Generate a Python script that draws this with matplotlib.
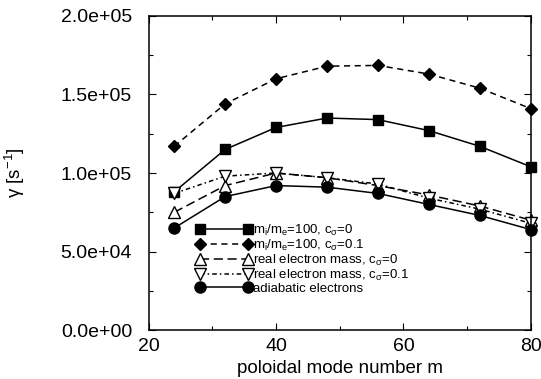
import matplotlib
matplotlib.use("Agg")
import matplotlib.pyplot as plt
from matplotlib.ticker import MultipleLocator, FormatStrFormatter

plt.rcParams['font.family'] = ['Liberation Sans', 'DejaVu Sans']
plt.rcParams['mathtext.fontset'] = 'custom'
plt.rcParams['mathtext.rm'] = 'Liberation Sans'
plt.rcParams['mathtext.it'] = 'Liberation Sans'

# poloidal mode numbers
m_vals = [24, 32, 40, 48, 56, 64, 72, 80]

# growth rates gamma [1/s]
mass100_c0 = [88000, 115000, 129000, 135000, 134000, 127000, 117000, 104000]
mass100_c01 = [117000, 144000, 160000, 168000, 168500, 163000, 154000, 141000]
real_c0 = [75000, 92000, 100000, 97000, 92000, 86000, 79000, 70000]
real_c01 = [87000, 98000, 100000, 97000, 93000, 84000, 77000, 68000]
adiabatic = [65000, 85000, 92000, 91000, 87000, 80000, 73000, 64000]

labels = [
    r"m$_\mathregular{i}$/m$_\mathregular{e}$=100, c$_\sigma$=0",
    r"m$_\mathregular{i}$/m$_\mathregular{e}$=100, c$_\sigma$=0.1",
    r"real electron mass, c$_\sigma$=0",
    r"real electron mass, c$_\sigma$=0.1",
    "adiabatic electrons",
]

fig = plt.figure(figsize=(5.41, 3.79), dpi=100)
ax = fig.add_axes([0.275, 0.129, 0.706, 0.829])

ms = 7
lw = 1.1
common = dict(color='black', lw=lw, clip_on=False)
ax.plot(m_vals, mass100_c0, ls='-', marker='s', ms=ms, mfc='black',
        label=labels[0], **common)
ax.plot(m_vals, mass100_c01, ls=(0, (4, 3)), marker='D', ms=ms - 0.5,
        mfc='black', label=labels[1], **common)
ax.plot(m_vals, real_c0, ls=(0, (6, 3)), marker='^', ms=ms + 1.5,
        mfc='white', label=labels[2], **common)
ax.plot(m_vals, real_c01, ls=(0, (3, 2, 1, 2)), marker='v', ms=ms + 1.5,
        mfc='white', label=labels[3], **common)
ax.plot(m_vals, adiabatic, ls='-', marker='o', ms=ms + 1,
        mfc='black', label=labels[4], **common)

ax.set_xlim(20, 80)
ax.set_ylim(0, 200000)
ax.xaxis.set_major_locator(MultipleLocator(20))
ax.xaxis.set_minor_locator(MultipleLocator(10))
ax.yaxis.set_major_locator(MultipleLocator(50000))
ax.yaxis.set_minor_locator(MultipleLocator(25000))
ax.yaxis.set_major_formatter(FormatStrFormatter('%.1e'))
ax.tick_params(which='both', direction='in', top=True, right=True,
               labelsize=14, width=0.8)
ax.tick_params(which='major', length=5)
ax.tick_params(axis='y', which='major', pad=12)
ax.tick_params(axis='x', which='major', pad=6)
ax.tick_params(which='minor', length=3)
for s in ax.spines.values():
    s.set_linewidth(1.1)

ax.set_xlabel("poloidal mode number m", fontsize=13.5, labelpad=3)
ax.set_ylabel(r"$\gamma$ [s$^{-1}$]", fontsize=13.5, labelpad=24)

ax.legend(loc='upper left', bbox_to_anchor=(0.1, 0.37), frameon=False,
          fontsize=9.5, numpoints=2, handlelength=4.2, handletextpad=0.1,
          labelspacing=-0.02, borderpad=0.2)

fig.savefig("out.png", dpi=100)
